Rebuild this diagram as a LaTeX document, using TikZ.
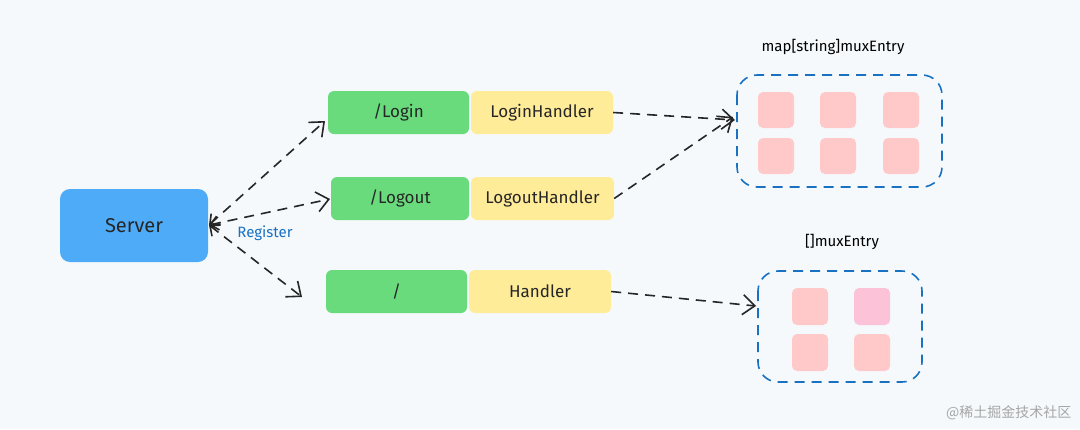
\documentclass[tikz,border=0pt]{standalone}
\usepackage{fontspec}
\setmainfont{Fira Sans}
\newfontfamily\cjk{Noto Sans CJK SC}
\usetikzlibrary{arrows.meta}
\definecolor{bg}{HTML}{F5F9FC}
\definecolor{srv}{HTML}{4DABF7}
\definecolor{grn}{HTML}{69DB7C}
\definecolor{ylw}{HTML}{FFEC99}
\definecolor{pk}{HTML}{FFC9C9}
\definecolor{pk2}{HTML}{FCC2D7}
\definecolor{bl}{HTML}{1971C2}
\begin{document}
\begin{tikzpicture}[x=1pt,y=-1pt,
  box/.style={rounded corners=6pt,inner sep=0pt,font=\fontsize{17}{20}\selectfont,text=black!85},
  sq/.style={fill=pk,rounded corners=5pt},
  grp/.style={draw=bl,dashed,dash pattern=on 10pt off 7pt,line width=1.6pt,rounded corners=20pt},
  arr/.style={-{Straight Barb[length=12pt,width=20pt]},dashed,dash pattern=on 10pt off 7pt,line width=1.6pt,black!85},
  barr/.style={arr,{Straight Barb[length=8pt,width=14pt]}-{Straight Barb[length=12pt,width=20pt]}}]
\fill[bg] (0,0) rectangle (1080,429);
\useasboundingbox (0,0) rectangle (1080,429);
\node[box,fill=srv,minimum width=148pt,minimum height=73pt,rounded corners=10pt,font=\fontsize{20}{24}\selectfont] (srv) at (134,225.5) {Server};
\node[box,fill=grn,minimum width=141pt,minimum height=43pt] (g1) at (398.5,112.5) {/Login};
\node[box,fill=ylw,minimum width=142pt,minimum height=43pt] (y1) at (542,112.5) {LoginHandler};
\node[box,fill=grn,minimum width=138pt,minimum height=43pt] (g2) at (400,198.5) {/Logout};
\node[box,fill=ylw,minimum width=143pt,minimum height=43pt] (y2) at (542.5,198.5) {LogoutHandler};
\node[box,fill=grn,minimum width=141pt,minimum height=43pt] (g3) at (396.5,291.5) {/};
\node[box,fill=ylw,minimum width=142pt,minimum height=43pt] (y3) at (540,291.5) {Handler};
\draw[grp] (737,75) rectangle (942,187);
\coordinate (m1) at (735,120);
\node[font=\fontsize{15}{18}\selectfont] (lm) at (833,47) {map[string]muxEntry};
\foreach \x in {758,820,883}{\foreach \y in {92,138}{\fill[sq] (\x,\y) rectangle ++(36,36);}}
\draw[grp] (758,271) rectangle (922,382);
\coordinate (m2) at (756,306);
\node[font=\fontsize{15}{18}\selectfont] (la) at (842,242) {[]muxEntry};
\fill[sq] (792,288) rectangle ++(36,37);
\fill[sq,fill=pk2] (854,288) rectangle ++(36,37);
\fill[sq] (792,334) rectangle ++(36,37);
\fill[sq] (854,334) rectangle ++(36,37);
\coordinate (s) at (209,225);
\draw[barr] (s) -- (325,121);
\draw[barr] (s) -- (330,199);
\draw[barr] (s) -- (302,297);
\node[text=bl,font=\fontsize{15}{18}\selectfont] (reg) at (265,233) {Register};
\draw[arr] (y1.east) -- (m1);
\draw[arr] (y2.east) -- (733,117);
\draw[arr] (y3.east) -- (m2);
\node[text=black!35,font=\cjk\fontsize{14}{16}\selectfont,anchor=east] (wm) at (1075,413) {@稀土掘金技术社区};
\end{tikzpicture}
\end{document}
